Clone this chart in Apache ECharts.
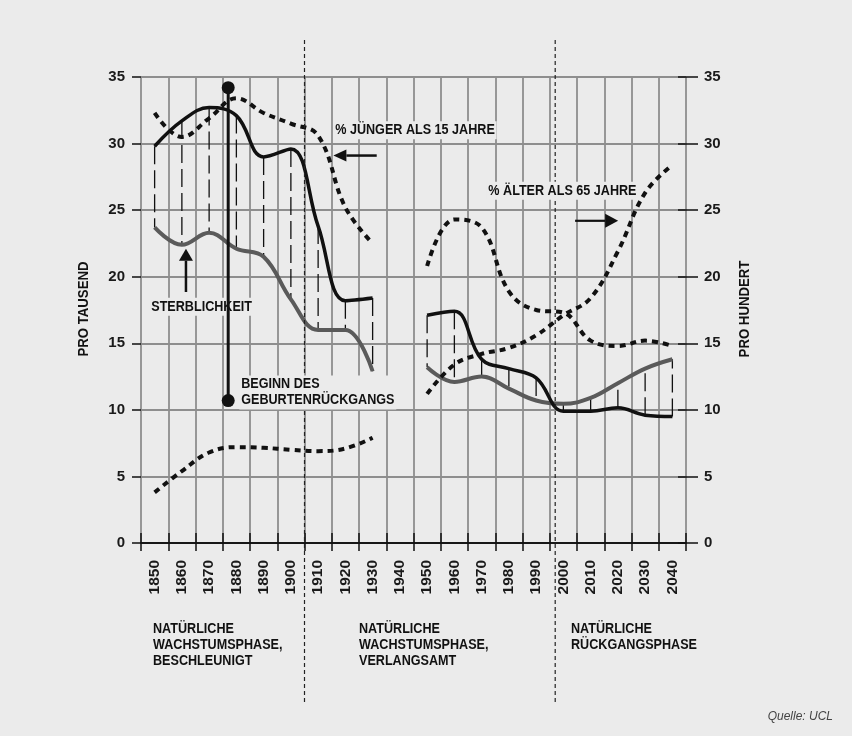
<!DOCTYPE html>
<html>
<head>
<meta charset="utf-8">
<script src="https://cdn.jsdelivr.net/npm/echarts@6/dist/echarts.min.js"></script>
<style>
html,body{margin:0;padding:0;background:#ebebeb;}
#c{width:852px;height:736px;}
</style>
</head>
<body>
<div id="c"></div>
<script>
// ---------- data ----------
const years = ['1850','1860','1870','1880','1890','1900','1910','1920','1930','1940',
               '1950','1960','1970','1980','1990','2000','2010','2020','2030','2040'];
// per thousand (left axis)
const birthRate = [29.8, 31.7, 32.7, 32.1, 29.0, 29.6, 23.8, 18.2, 18.4, null,
                   17.1, 17.4, 13.8, 13.1, 12.4, 9.9, 9.9, 10.15, 9.6, 9.5];
const deathRate = [23.7, 22.4, 23.3, 22.1, 21.5, 18.3, 16.0, 16.0, 12.9, null,
                   13.2, 12.1, 12.5, 11.6, 10.7, 10.45, 10.9, 12.0, 13.1, 13.8];
// per hundred (right axis)
const under15 = [32.3, 30.5, 31.9, 33.4, 32.3, 31.5, 30.6, 25.2, 22.5, null,
                 20.8, 24.3, 23.7, 18.9, 17.5, 17.3, 15.2, 14.8, 15.2, 14.8];
const over65  = [3.8, 5.4, 6.8, 7.2, 7.15, 7.0, 6.9, 7.1, 7.9, null,
                 11.2, 13.4, 14.2, 14.65, 15.6, 17.1, 18.4, 21.9, 26.3, 28.4];
// start of fertility decline marker
const declineYear = 1877;
const declineRange = [10.7, 34.2];
// phase boundaries (years)
const phaseBoundaries = [1905, 1997];
const phaseLabels = ['NATÜRLICHE\nWACHSTUMSPHASE,\nBESCHLEUNIGT',
                     'NATÜRLICHE\nWACHSTUMSPHASE,\nVERLANGSAMT',
                     'NATÜRLICHE\nRÜCKGANGSPHASE'];
const phaseLabelYears = [1849.4, 1925, 2002.8];
const yTicks = {min: 0, max: 35, interval: 5};

// ---------- chart ----------
const FONT = '"Liberation Sans", Arial, Helvetica, sans-serif';
const INK = '#111';
const GRIDC = '#8e8e8e';
const BG = '#ebebeb';

const dropData = [];
years.forEach((y, i) => {
  if (birthRate[i] != null && deathRate[i] != null) dropData.push([i, birthRate[i], deathRate[i]]);
});

const chart = echarts.init(document.getElementById('c'), null, {renderer: 'canvas'});

const option = {
  backgroundColor: BG,
  animation: false,
  grid: {left: 141, right: 166, top: 77, bottom: 193},
  xAxis: [
    {
      type: 'category', data: years, boundaryGap: true, position: 'bottom',
      axisLine: {show: true, lineStyle: {color: INK, width: 1.5}},
      axisTick: {show: true, interval: 0, inside: false, length: 8, lineStyle: {color: INK, width: 1.5}},
      axisLabel: {interval: 0, rotate: 90, margin: 17, fontFamily: FONT, fontWeight: 'bold', fontSize: 15.5, color: '#1a1a1a'},
      splitLine: {show: true, interval: 0, lineStyle: {color: GRIDC, width: 1.8}}
    },
    {
      type: 'category', data: years, boundaryGap: true, position: 'bottom',
      axisLine: {show: false},
      axisTick: {show: true, interval: 0, inside: true, length: 10, lineStyle: {color: INK, width: 1.5}},
      axisLabel: {show: false}, splitLine: {show: false}
    },
    {
      type: 'category', data: years, boundaryGap: true, position: 'top',
      axisLine: {show: true, lineStyle: {color: INK, width: 1.5}},
      axisTick: {show: false}, axisLabel: {show: false}, splitLine: {show: false}
    },
    {type: 'value', min: 1845, max: 2045, show: false}
  ],
  yAxis: [
    {
      type: 'value', min: yTicks.min, max: yTicks.max, interval: yTicks.interval, position: 'left',
      axisLine: {show: false},
      axisTick: {show: true, length: 9, lineStyle: {color: INK, width: 1.5}},
      axisLabel: {margin: 16, fontFamily: FONT, fontWeight: 'bold', fontSize: 15, color: '#1a1a1a'},
      splitLine: {show: true, lineStyle: {color: GRIDC, width: 1.8}}
    },
    {
      type: 'value', min: yTicks.min, max: yTicks.max, interval: yTicks.interval, position: 'right',
      axisLine: {show: false},
      axisTick: {show: true, length: 12, lineStyle: {color: INK, width: 1.5}},
      axisLabel: {margin: 18, fontFamily: FONT, fontWeight: 'bold', fontSize: 15, color: '#1a1a1a'},
      splitLine: {show: false}
    },
    {
      type: 'value', min: yTicks.min, max: yTicks.max, interval: yTicks.interval, position: 'right',
      axisLine: {show: false},
      axisTick: {show: true, inside: true, length: 8, lineStyle: {color: INK, width: 1.5}},
      axisLabel: {show: false}, splitLine: {show: false}
    }
  ],
  series: [
    {
      type: 'custom', name: 'Geburtenüberschuss', xAxisIndex: 0, yAxisIndex: 0, z: 1,
      data: dropData,
      renderItem: function (params, api) {
        const i = api.value(0);
        const a = api.coord([i, api.value(1)]);
        const b = api.coord([i, api.value(2)]);
        return {type: 'line', shape: {x1: a[0], y1: a[1], x2: b[0], y2: b[1]},
                style: {stroke: INK, lineWidth: 1.3, lineDash: [18, 6]}};
      }
    },
    {
      type: 'line', name: 'Geburtenrate', data: birthRate, xAxisIndex: 0, yAxisIndex: 0,
      smooth: 0.4, symbol: 'none', connectNulls: false, z: 4,
      lineStyle: {color: INK, width: 3.5}
    },
    {
      type: 'line', name: 'Sterblichkeit', data: deathRate, xAxisIndex: 0, yAxisIndex: 0,
      smooth: 0.4, symbol: 'none', connectNulls: false, z: 3,
      lineStyle: {color: '#5a5a5a', width: 4}
    },
    {
      type: 'line', name: '% jünger als 15 Jahre', data: under15, xAxisIndex: 0, yAxisIndex: 1,
      smooth: 0.4, symbol: 'none', connectNulls: false, z: 3,
      lineStyle: {color: INK, width: 4, type: [6, 5], cap: 'butt'}
    },
    {
      type: 'line', name: '% älter als 65 Jahre', data: over65, xAxisIndex: 0, yAxisIndex: 1,
      smooth: 0.4, symbol: 'none', connectNulls: false, z: 3,
      lineStyle: {color: INK, width: 4, type: [6, 5], cap: 'butt'}
    },
    {
      type: 'line', name: 'Beginn des Geburtenrückgangs', xAxisIndex: 3, yAxisIndex: 0, z: 30,
      data: [[declineYear, declineRange[0]], [declineYear, declineRange[1]]],
      symbol: 'circle', symbolSize: 13, showSymbol: true,
      itemStyle: {color: INK}, lineStyle: {color: INK, width: 3}
    }
  ]
};
chart.setOption(option);

// ---------- annotations (positioned through the axes) ----------
const X = v => chart.convertToPixel({xAxisIndex: 3}, v);
const Y = v => chart.convertToPixel({yAxisIndex: 0}, v);
const BOLD = 'bold 14px ' + FONT;

function txt(x, y, text, vAlign, bg) {
  const va = vAlign || 'middle';
  const style = {text: text, font: BOLD, fill: INK, textAlign: 'left', textVerticalAlign: va,
                 align: 'left', verticalAlign: va, lineHeight: 16};
  if (bg) { style.backgroundColor = BG; style.padding = [1, 2, 1, 2]; }
  return {type: 'text', x: x, y: y, scaleX: 0.9, z: 20, style: style};
}
function arrow(tail, tip, head, half, w) {
  const x1 = X(tail[0]), y1 = Y(tail[1]), x2 = X(tip[0]), y2 = Y(tip[1]);
  const dx = x2 - x1, dy = y2 - y1, L = Math.sqrt(dx * dx + dy * dy);
  const ux = dx / L, uy = dy / L;
  const bx = x2 - ux * head, by = y2 - uy * head;
  return [
    {type: 'line', z: 20, shape: {x1: x1, y1: y1, x2: bx, y2: by}, style: {stroke: INK, lineWidth: w}},
    {type: 'polygon', z: 20, shape: {points: [[x2, y2], [bx - uy * half, by + ux * half], [bx + uy * half, by - ux * half]]},
     style: {fill: INK}}
  ];
}

const els = [];
// phase boundaries
phaseBoundaries.forEach(yr => {
  const x = X(yr);
  els.push({type: 'line', z: 15, shape: {x1: x, y1: 40, x2: x, y2: 705},
            style: {stroke: '#222', lineWidth: 1.2, lineDash: [4, 3]}});
});
// phase labels
phaseLabels.forEach((t, i) => {
  els.push(txt(X(phaseLabelYears[i]), 621, t, 'top', false));
});
// annotations
els.push(txt(X(1915.6), Y(31.0), '% JÜNGER ALS 15 JAHRE', 'middle', true));
els.push(...arrow([1931.5, 29.1], [1915.6, 29.1], 13, 6, 2.5));
els.push(txt(X(1971.8), Y(26.45), '% ÄLTER ALS 65 JAHRE', 'middle', true));
els.push(...arrow([2004.3, 24.2], [2020.1, 24.2], 13, 7, 2.2));
els.push(txt(X(1848.1), Y(17.75), 'STERBLICHKEIT', 'middle', true));
els.push(...arrow([1861.5, 18.85], [1861.5, 22.1], 12, 7, 2.5));
els.push(txt(X(1881.1), Y(11.3), 'BEGINN DES\nGEBURTENRÜCKGANGS', 'middle', true));
// axis names
els.push({type: 'text', x: 83.5, y: 309, rotation: Math.PI / 2, scaleX: 0.88, z: 20,
  style: {text: 'PRO TAUSEND', font: 'bold 15px ' + FONT, fill: INK, textAlign: 'center', textVerticalAlign: 'middle',
          align: 'center', verticalAlign: 'middle'}});
els.push({type: 'text', x: 745, y: 309, rotation: Math.PI / 2, scaleX: 0.88, z: 20,
  style: {text: 'PRO HUNDERT', font: 'bold 15px ' + FONT, fill: INK, textAlign: 'center', textVerticalAlign: 'middle',
          align: 'center', verticalAlign: 'middle'}});
// source
els.push({type: 'text', x: 833, y: 717, z: 20,
  style: {text: 'Quelle: UCL', font: 'italic 12px ' + FONT, fill: '#444', textAlign: 'right', textVerticalAlign: 'middle',
          align: 'right', verticalAlign: 'middle'}});

chart.setOption({graphic: {elements: els}});
</script>
</body>
</html>
